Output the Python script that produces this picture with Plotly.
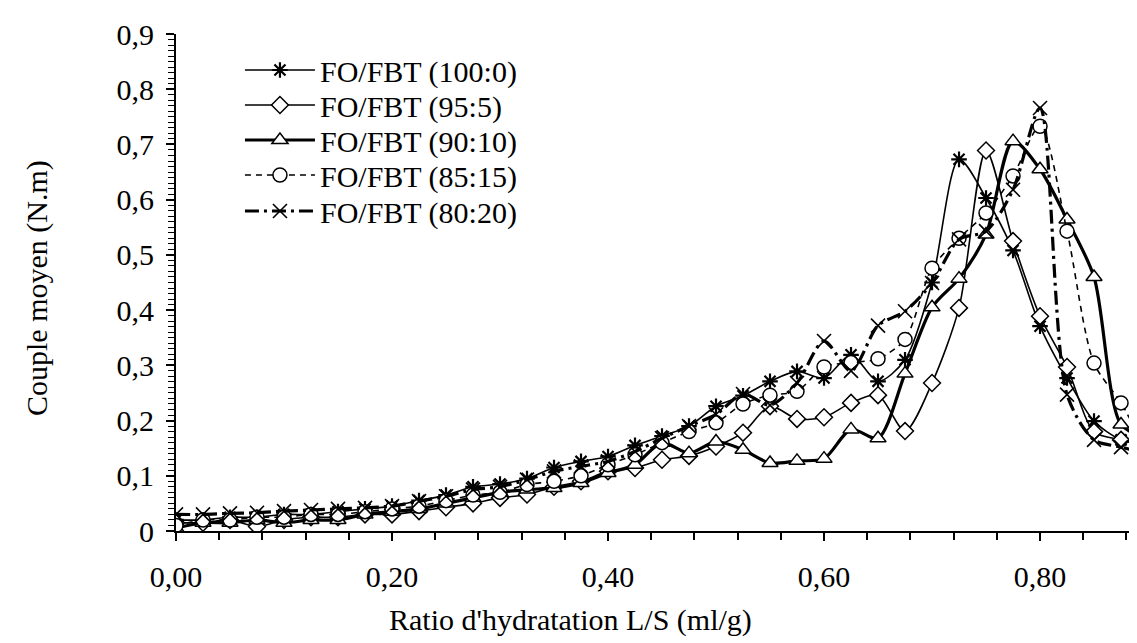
import plotly.graph_objects as go

# x: hydration ratio L/S (ml/g)
ratio = [0.000, 0.025, 0.050, 0.075, 0.100, 0.125, 0.150, 0.175, 0.200, 0.225,
         0.250, 0.275, 0.300, 0.325, 0.350, 0.375, 0.400, 0.425, 0.450, 0.475,
         0.500, 0.525, 0.550, 0.575, 0.600, 0.625, 0.650, 0.675, 0.700, 0.725,
         0.750, 0.775, 0.800, 0.825, 0.850, 0.875, 0.900]

fo_100_0 = [0.020, 0.020, 0.025, 0.025, 0.030, 0.030, 0.035, 0.040, 0.045, 0.055,
            0.065, 0.080, 0.085, 0.095, 0.115, 0.126, 0.135, 0.155, 0.172, 0.190,
            0.226, 0.245, 0.271, 0.289, 0.277, 0.319, 0.271, 0.310, 0.450, 0.673,
            0.603, 0.508, 0.371, 0.277, 0.199, 0.165, 0.155]

fo_95_5 = [0.015, 0.015, 0.020, 0.008, 0.020, 0.025, 0.025, 0.030, 0.030, 0.036,
           0.043, 0.050, 0.060, 0.066, 0.080, 0.090, 0.108, 0.114, 0.129, 0.136,
           0.153, 0.178, 0.226, 0.203, 0.206, 0.232, 0.246, 0.181, 0.268, 0.404,
           0.689, 0.525, 0.389, 0.297, 0.180, 0.165, 0.155]

fo_90_10 = [0.005, 0.015, 0.015, 0.020, 0.015, 0.020, 0.020, 0.030, 0.035, 0.040,
            0.050, 0.060, 0.070, 0.075, 0.078, 0.087, 0.105, 0.120, 0.160, 0.141,
            0.162, 0.147, 0.123, 0.127, 0.131, 0.184, 0.168, 0.285, 0.405, 0.457,
            0.537, 0.706, 0.655, 0.564, 0.460, 0.193, 0.168]

fo_85_15 = [0.010, 0.020, 0.020, 0.025, 0.025, 0.030, 0.030, 0.035, 0.040, 0.045,
            0.055, 0.065, 0.070, 0.084, 0.090, 0.100, 0.120, 0.138, 0.160, 0.180,
            0.196, 0.230, 0.246, 0.253, 0.297, 0.305, 0.312, 0.347, 0.476, 0.530,
            0.576, 0.643, 0.733, 0.543, 0.304, 0.232, 0.140]

fo_80_20 = [0.030, 0.030, 0.032, 0.033, 0.036, 0.038, 0.040, 0.042, 0.045, 0.054,
            0.063, 0.075, 0.080, 0.093, 0.108, 0.117, 0.126, 0.144, 0.168, 0.190,
            0.211, 0.248, 0.228, 0.268, 0.344, 0.290, 0.372, 0.398, 0.449, 0.528,
            0.543, 0.618, 0.766, 0.247, 0.165, 0.152, 0.140]

series_names = ["FO/FBT (100:0)", "FO/FBT (95:5)", "FO/FBT (90:10)",
                "FO/FBT (85:15)", "FO/FBT (80:20)"]

x_ticks = [0.0, 0.2, 0.4, 0.6, 0.8]
y_ticks = [0.0, 0.1, 0.2, 0.3, 0.4, 0.5, 0.6, 0.7, 0.8, 0.9]

x_title = "Ratio d'hydratation L/S (ml/g)"
y_title = "Couple moyen (N.m)"

FONT = "Liberation Serif, Times New Roman, serif"
FS = 30

styles = [
    dict(line=dict(color="black", width=1.6, dash="solid"),
         marker=dict(symbol="asterisk-open", size=13, color="black",
                     line=dict(color="black", width=2.2))),
    dict(line=dict(color="black", width=1.6, dash="solid"),
         marker=dict(symbol="diamond", size=13, color="white",
                     line=dict(color="black", width=1.5))),
    dict(line=dict(color="black", width=3.2, dash="solid"),
         marker=dict(symbol="triangle-up", size=14, color="white",
                     line=dict(color="black", width=1.5))),
    dict(line=dict(color="black", width=1.6, dash="6px,5px"),
         marker=dict(symbol="circle", size=14, color="white",
                     line=dict(color="black", width=1.5))),
    dict(line=dict(color="black", width=3.2, dash="14px,5px,3px,5px"),
         marker=dict(symbol="x-thin-open", size=14, color="black",
                     line=dict(color="black", width=1.6))),
]

data = [fo_100_0, fo_95_5, fo_90_10, fo_85_15, fo_80_20]
legend_ids = ["legend", "legend2", "legend3", "legend4", "legend5"]

fig = go.Figure()
for name, vals, st, lid in zip(series_names, data, styles, legend_ids):
    fig.add_trace(go.Scatter(
        x=ratio, y=vals, name=name, mode="lines+markers",
        line=dict(shape="spline", smoothing=0.8, **st["line"]),
        marker=st["marker"], legend=lid,
    ))

x_range = [0, 0.8972]
y_range = [0, 0.9]

# plot area in pixels: x 168..1137, y 26..523
row_px = [62, 97, 132, 167, 203]
legends = {}
for lid, ypx in zip(legend_ids, row_px):
    legends[lid] = dict(
        x=0.066, y=(523 - ypx) / 497, xanchor="left", yanchor="middle",
        bgcolor="rgba(0,0,0,0)", borderwidth=0,
        font=dict(family=FONT, size=FS, color="black"),
        itemwidth=70,
    )

fig.update_layout(
    width=1137, height=643,
    margin=dict(l=168, r=0, t=26, b=120),
    paper_bgcolor="white", plot_bgcolor="white",
    separators=", ",
    font=dict(family=FONT, size=FS, color="black"),
    showlegend=True,
    xaxis=dict(
        range=x_range, tickvals=x_ticks, tickformat=".2f",
        showline=True, linecolor="black", linewidth=2,
        ticks="outside", ticklen=8, tickwidth=1.5, tickcolor="black",
        minor=dict(dtick=0.04, tick0=0, ticks="outside", ticklen=7,
                   tickwidth=1.5, tickcolor="black"),
        showgrid=False, zeroline=False, ticklabelstandoff=10,
        tickfont=dict(family=FONT, size=FS),
    ),
    yaxis=dict(
        range=y_range, tickvals=y_ticks,
        showline=True, linecolor="black", linewidth=2,
        ticks="outside", ticklen=8, tickwidth=1.5, tickcolor="black",
        minor=dict(dtick=0.01, tick0=0, ticks="outside", ticklen=6,
                   tickwidth=1.2, tickcolor="black"),
        showgrid=False, zeroline=False, ticklabelstandoff=6,
        tickfont=dict(family=FONT, size=FS),
    ),
    xaxis2=dict(
        overlaying="x", anchor="y", range=x_range, tickvals=x_ticks,
        ticks="inside", ticklen=8, tickwidth=1.5, tickcolor="black",
        showticklabels=False, showgrid=False, zeroline=False, showline=False,
    ),
    yaxis2=dict(
        overlaying="y", anchor="x", range=y_range, tickvals=y_ticks,
        ticks="inside", ticklen=8, tickwidth=1.5, tickcolor="black",
        showticklabels=False, showgrid=False, zeroline=False, showline=False,
    ),
    annotations=[
        dict(text=x_title, xref="paper", yref="paper",
             x=(562 - 168) / 969, y=(523 - 612) / 497,
             xanchor="center", yanchor="middle", showarrow=False,
             font=dict(family=FONT, size=FS, color="black")),
        dict(text=y_title, xref="paper", yref="paper", textangle=-90,
             x=(29 - 168) / 969, y=(523 - 280) / 497,
             xanchor="center", yanchor="middle", showarrow=False,
             font=dict(family=FONT, size=FS, color="black")),
    ],
    **legends,
)

fig.write_html("out.html")
